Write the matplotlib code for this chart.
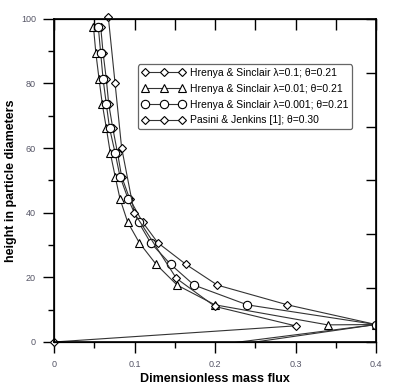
import numpy as np
import matplotlib
matplotlib.use("Agg")
import matplotlib.pyplot as plt
from matplotlib.ticker import MultipleLocator, FuncFormatter

plt.rcParams['font.family'] = ['Liberation Sans', 'DejaVu Sans']

# heights of the Hrenya & Sinclair points (particle diameters)
h_hs = [5.4, 11.5, 17.6, 24.0, 30.7, 37.1, 44.3, 51.2, 58.4, 66.2, 73.6, 81.3, 89.4, 97.6]

# lambda = 0.1 (diamonds); first point lies below the axis
x_l01 = [0.0, 0.40, 0.29, 0.203, 0.164, 0.129, 0.110, 0.094, 0.084, 0.079, 0.073, 0.068, 0.065, 0.061, 0.058]
y_l01 = [-7.3] + h_hs

# lambda = 0.01 (triangles)
x_l001 = [0.40, 0.34, 0.200, 0.153, 0.127, 0.106, 0.0915, 0.082, 0.076, 0.070, 0.065, 0.060, 0.056, 0.052, 0.049]
y_l001 = [5.4, 5.3] + h_hs[1:]

# lambda = 0.001 (circles)
x_l0001 = [0.0, 0.40, 0.24, 0.174, 0.145, 0.120, 0.105, 0.092, 0.082, 0.076, 0.069, 0.065, 0.061, 0.058, 0.055]
y_l0001 = [-9.0] + h_hs

# Pasini & Jenkins
x_pj = [0.0, 0.30, 0.200, 0.152, 0.0998, 0.084, 0.0758, 0.0675]
y_pj = [0.0, 5.0, 11.0, 19.7, 39.9, 60.1, 80.2, 100.5]

labels = ['Hrenya & Sinclair λ=0.1; θ=0.21',
          'Hrenya & Sinclair λ=0.01; θ=0.21',
          'Hrenya & Sinclair λ=0.001; θ=0.21',
          'Pasini & Jenkins [1]; θ=0.30']

fig = plt.figure(figsize=(4.0, 3.87), dpi=100)
ax = fig.add_axes([0.135, 0.1163, 0.805, 0.835])

lc = '#333333'
kw = dict(color=lc, lw=0.8, mfc='white', mec='black', mew=0.8)
ax.plot(x_l01, y_l01, marker='D', ms=4.5, label=labels[0], **kw)
ax.plot(x_l001, y_l001, marker='^', ms=6, label=labels[1], **kw)
ax.plot(x_l0001, y_l0001, marker='o', ms=6, label=labels[2], **kw)
ax.plot(x_pj, y_pj, marker='D', ms=4.5, label=labels[3], clip_on=False, **kw)

ax.set_xlim(0, 0.4)
ax.set_ylim(0, 100)
ax.xaxis.set_major_locator(MultipleLocator(0.1))
ax.xaxis.set_minor_locator(MultipleLocator(0.05))
ax.yaxis.set_major_locator(MultipleLocator(20))
ax.yaxis.set_minor_locator(MultipleLocator(10))
ax.xaxis.set_major_formatter(FuncFormatter(lambda v, p: '0' if abs(v) < 1e-9 else '%.1f' % v))
ax.tick_params(which='major', direction='out', length=8, width=1, labelsize=6.5,
               labelcolor='#555566')
ax.tick_params(axis='x', pad=5)
ax.tick_params(axis='y', pad=5)
ax.tick_params(which='minor', direction='out', length=4, width=1)
for s in ax.spines.values():
    s.set_linewidth(1.2)

# inside ticks on top and right
axr = ax.twinx()
axr.set_ylim(0, 100)
axr.set_yticks(np.linspace(0, 100, 7))
axr.tick_params(direction='in', length=7, width=1, labelright=False)
axt = ax.twiny()
axt.set_xlim(0, 0.4)
axt.xaxis.set_major_locator(MultipleLocator(0.05))
axt.tick_params(direction='in', length=8, width=1, labeltop=False)

ax.set_xlabel('Dimensionless mass flux', fontsize=9, fontweight='bold', labelpad=3)
ax.set_ylabel('height in particle diameters', fontsize=9, fontweight='bold', labelpad=3)

leg = ax.legend(loc='upper left', bbox_to_anchor=(0.245, 0.875), numpoints=3,
                fontsize=7.5, handlelength=4.2, handletextpad=0.4, borderpad=0.35,
                labelspacing=0.55, fancybox=True, framealpha=1, edgecolor='#666666')
leg.get_frame().set_linewidth(0.9)
leg.set_zorder(5)

fig.savefig('out.png', dpi=100)
